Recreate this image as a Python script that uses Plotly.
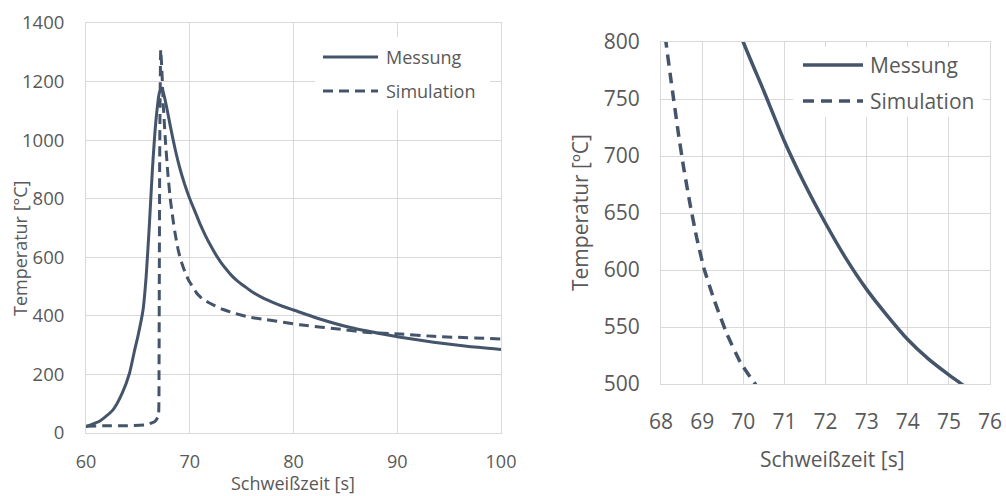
import plotly.graph_objects as go

# Data
mess_t = [60, 61.3, 62.6, 63.5, 64.2, 64.7, 65.0, 65.5, 65.8, 66.1,
          66.4, 66.75, 67.07, 67.33, 67.7, 68.2, 68.6, 69.0, 69.5, 70,
          70.5, 71, 71.5, 72, 72.5, 73, 73.5, 74, 74.5, 75,
          75.27, 76, 77, 78, 79, 80, 82.3, 85.5, 88.7, 90.3, 93.5, 96.7, 100]
mess_T = [22, 40, 79, 137, 205, 285, 330, 421, 535, 706,
          899, 1070, 1161, 1178, 1125, 1035, 968, 910, 850, 800,
          757, 713, 675, 641, 610, 583, 560, 539, 522, 508,
          501, 482, 462, 446, 432, 420, 392, 360, 337, 327, 310, 296, 285]

sim_t = [60, 62, 64, 65.85, 66.66, 66.98, 67.04, 67.07, 67.1, 67.14,
         67.2, 67.3, 67.45, 67.65, 67.88, 68.12, 68.23, 68.31, 68.43, 68.55,
         68.71, 68.87, 69.04, 69.28, 69.6, 69.93, 70.17, 70.29, 70.66, 71.2,
         71.9, 73, 74.2, 75.8, 77.4, 80.6, 84.8, 87.1, 90.3, 93.5, 100]
sim_T = [23, 25, 25, 28, 40, 57, 228, 569, 910, 1138,
         1309, 1250, 1120, 1000, 890, 800, 770, 749, 718, 690,
         657, 628, 602, 575, 544, 519, 506, 500, 478, 458,
         444, 425, 410, 395, 387, 370, 353, 343, 338, 330, 321]

series_names = ["Messung", "Simulation"]
x_title = "Schweißzeit [s]"
y_title_left = "Temperatur [°C]"
y_title_right = "Temperatur [ºC]"

LINE = "#44546A"
GRID = "#D9D9D9"
TXT = "#595959"
FONT = "Open Sans"

W, H = 1006, 496

def px_x(v):
    return v / W

def px_y(v):
    return 1 - v / H

fig = go.Figure()

# left chart
fig.add_trace(go.Scatter(x=mess_t, y=mess_T, mode="lines", name=series_names[0],
                         line=dict(color=LINE, width=3, shape="spline", smoothing=0.5),
                         xaxis="x", yaxis="y", showlegend=False))
fig.add_trace(go.Scatter(x=sim_t, y=sim_T, mode="lines", name=series_names[1],
                         line=dict(color=LINE, width=3, dash="10px,6px", shape="spline", smoothing=0.3),
                         xaxis="x", yaxis="y", showlegend=False))
# right chart (zoomed)
fig.add_trace(go.Scatter(x=mess_t, y=mess_T, mode="lines", name=series_names[0],
                         line=dict(color=LINE, width=3.5, shape="spline", smoothing=0.5),
                         xaxis="x2", yaxis="y2", showlegend=False))
fig.add_trace(go.Scatter(x=sim_t, y=sim_T, mode="lines", name=series_names[1],
                         line=dict(color=LINE, width=3.5, dash="11px,7px", shape="spline", smoothing=0.3),
                         xaxis="x2", yaxis="y2", showlegend=False))

ax_common = dict(showgrid=True, gridcolor=GRID, gridwidth=1, zeroline=False,
                 showline=True, linecolor=GRID, linewidth=1, mirror=True,
                 ticks="", color=TXT, automargin=False)

fig.update_layout(
    width=W, height=H,
    margin=dict(l=0, r=0, t=0, b=0),
    paper_bgcolor="white", plot_bgcolor="white",
    font=dict(family=FONT, color=TXT),
    xaxis=dict(domain=[px_x(86), px_x(501)], range=[60, 100], dtick=10,
               anchor="y", tickfont=dict(size=18, family=FONT, color=TXT),
               ticklabelstandoff=12, **ax_common),
    yaxis=dict(domain=[px_y(433), px_y(23)], range=[0, 1400], dtick=200,
               anchor="x", tickfont=dict(size=18.5, family=FONT, color=TXT),
               ticklabelstandoff=17, **ax_common),
    xaxis2=dict(domain=[px_x(661), px_x(990)], range=[68, 76], dtick=1,
                anchor="y2", tickfont=dict(size=21, family=FONT, color=TXT),
                ticklabelstandoff=19, **ax_common),
    yaxis2=dict(domain=[px_y(384), px_y(42)], range=[500, 800], dtick=50,
                anchor="x2", tickfont=dict(size=21, family=FONT, color=TXT),
                ticklabelstandoff=16, **ax_common),
)

shapes = []
annotations = []

# legend boxes (white, covering gridlines)
shapes.append(dict(type="rect", xref="paper", yref="paper", layer="above",
                   x0=px_x(315), x1=px_x(490), y0=px_y(110), y1=px_y(37),
                   fillcolor="white", line=dict(width=0)))
shapes.append(dict(type="rect", xref="paper", yref="paper", layer="above",
                   x0=px_x(793), x1=px_x(983), y0=px_y(117), y1=px_y(47),
                   fillcolor="white", line=dict(width=0)))

# legend entries
legends = [
    # (line x0, line x1, text x, y messung, y simulation, font size, width, dash)
    (323, 378, 384, 57, 91, 18, 3, "10px,6px"),
    (803, 863, 868, 65, 101, 21, 3.5, "11px,7px"),
]
for lx0, lx1, tx, ym, ys, fs, lw, dsh in legends:
    shapes.append(dict(type="line", xref="paper", yref="paper", layer="above",
                       x0=px_x(lx0), x1=px_x(lx1), y0=px_y(ym), y1=px_y(ym),
                       line=dict(color=LINE, width=lw)))
    shapes.append(dict(type="line", xref="paper", yref="paper", layer="above",
                       x0=px_x(lx0), x1=px_x(lx1), y0=px_y(ys), y1=px_y(ys),
                       line=dict(color=LINE, width=lw, dash=dsh)))
    annotations.append(dict(xref="paper", yref="paper", x=px_x(tx), y=px_y(ym),
                            text=series_names[0], showarrow=False, xanchor="left",
                            yanchor="middle", font=dict(size=fs, family=FONT, color=TXT)))
    annotations.append(dict(xref="paper", yref="paper", x=px_x(tx), y=px_y(ys),
                            text=series_names[1], showarrow=False, xanchor="left",
                            yanchor="middle", font=dict(size=fs, family=FONT, color=TXT)))

# axis titles
annotations.append(dict(xref="paper", yref="paper", x=px_x(293), y=px_y(483),
                        text=x_title, showarrow=False, xanchor="center", yanchor="middle",
                        font=dict(size=18, family=FONT, color=TXT)))
annotations.append(dict(xref="paper", yref="paper", x=px_x(20), y=px_y(249),
                        text=y_title_left, showarrow=False, textangle=-90,
                        xanchor="center", yanchor="middle",
                        font=dict(size=18, family=FONT, color=TXT)))
annotations.append(dict(xref="paper", yref="paper", x=px_x(832), y=px_y(459),
                        text=x_title, showarrow=False, xanchor="center", yanchor="middle",
                        font=dict(size=21, family=FONT, color=TXT)))
annotations.append(dict(xref="paper", yref="paper", x=px_x(580), y=px_y(213),
                        text=y_title_right, showarrow=False, textangle=-90,
                        xanchor="center", yanchor="middle",
                        font=dict(size=21, family=FONT, color=TXT)))

fig.update_layout(shapes=shapes, annotations=annotations)

# remove the browser's default page margin so the figure fills the window exactly
fig.write_html("out.html",
               config={"displayModeBar": False},
               post_script="document.body.style.margin='0';document.body.style.overflow='hidden';")
